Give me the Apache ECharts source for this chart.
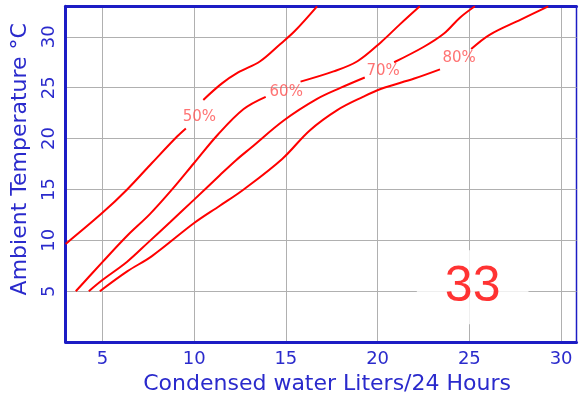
<!DOCTYPE html>
<html><head><meta charset="utf-8">
<script src="https://cdn.jsdelivr.net/npm/echarts@6/dist/echarts.min.js"></script>
<style>html,body{margin:0;padding:0;background:#fff}#c{width:579px;height:400px}</style>
</head><body><div id="c"></div>
<script>
// ---- data ----
const xTicks = [5, 10, 15, 20, 25, 30];
const yTicks = [5, 10, 15, 20, 25, 30];
// each curve: segments (gap where the contour label sits)
const rh50 = [
  [[3,9.65],[5,12.7],[6.35,15],[7.7,17.6],[9.07,20.2],[9.55,21.0]],
  [[10.5,23.8],[11.5,25.4],[12.4,26.5],[13.6,27.6],[14.7,29.3],[15.5,30.6],[16.7,33]]
];
const rh60 = [
  [[3.55,5],[5,7.86],[6.35,10.45],[7.6,12.6],[8.8,15],[10,17.6],[11.3,20.4],[12.7,22.9],[13.9,24.1]],
  [[15.8,25.6],[17.6,26.6],[18.9,27.6],[20.2,29.5],[21.2,31.2],[22.3,33]]
];
const rh70 = [
  [[4.26,5],[5,6.1],[6.35,7.9],[7.5,9.8],[8.7,11.8],[10,14],[11.4,16.4],[12.3,17.9],[13.1,19.1],[14.9,21.8],[16.7,23.9],[18,25],[19.3,26.0]],
  [[20.9,27.5],[22.5,29],[23.6,30.3],[24.5,31.9],[25.3,33]]
];
const rh80 = [
  [[4.86,5],[6.35,6.95],[7.7,8.45],[10,11.7],[11.4,13.4],[12.7,15],[14.8,18],[16.3,20.8],[17.8,22.8],[19.2,24.1],[20.2,24.9],[22,25.9],[23.4,26.8]],
  [[25.1,28.8],[26.1,30.2],[27.8,31.7],[29.3,33]]
];
const curveNames = ['50%', '60%', '70%', '80%'];
const labelPoints = [[10.29,22.1],[15.02,24.6],[20.3,26.6],[24.44,27.9]];
const badgeText = '33';
const badgePoint = [25.18, 5.4];
const xName = 'Condensed water Liters/24 Hours';
const yName = 'Ambient Temperature °C';

// ---- chart ----
const BLUE = '#1c1cc4';
const TXT = '#2a2acc';
const FONT = 'DejaVu Sans';
function join(segs){ const out=[]; segs.forEach((s,i)=>{ if(i) out.push(['-','-']); out.push(...s); }); return out; }
const curves = [rh50, rh60, rh70, rh80];

const chart = echarts.init(document.getElementById('c'), null, {renderer:'canvas'});
chart.setOption({
  animation: false,
  grid: {left: 65.7, right: 2.5, top: 6.3, bottom: 55.7, show: true, borderColor: BLUE, borderWidth: 1.5, backgroundColor: '#fff'},
  xAxis: [{
    type: 'value', min: 3, max: 30.84, position: 'bottom',
    axisLine: {show: true, onZero: false, lineStyle: {color: BLUE, width: 3}},
    axisTick: {show: false, customValues: xTicks},
    axisLabel: {customValues: xTicks, color: TXT, fontSize: 18, fontFamily: FONT, margin: 8},
    splitLine: {show: true, lineStyle: {color: '#b0b0b0', width: 1}},
    name: xName, nameLocation: 'middle', nameGap: 28,
    nameTextStyle: {color: TXT, fontSize: 22, fontFamily: FONT, padding: [0, 0, 0, 12]}
  }, {
    type: 'value', min: 3, max: 30.84, position: 'top',
    axisLine: {show: true, onZero: false, lineStyle: {color: BLUE, width: 3}},
    axisTick: {show: false}, axisLabel: {show: false}, splitLine: {show: false}
  }],
  yAxis: {
    type: 'value', min: 0, max: 33,
    axisLine: {show: true, onZero: false, lineStyle: {color: BLUE, width: 3}},
    axisTick: {show: false, customValues: yTicks},
    axisLabel: {customValues: yTicks, color: TXT, fontSize: 18, fontFamily: FONT, margin: 7, rotate: 90},
    splitLine: {show: true, lineStyle: {color: '#b0b0b0', width: 1}},
    name: yName, nameLocation: 'middle', nameGap: 34,
    nameTextStyle: {color: TXT, fontSize: 22, fontFamily: FONT, padding: [0, 0, 0, 30]}
  },
  series: [
    ...curves.map((c, i) => ({
      type: 'line', name: curveNames[i], data: join(c), smooth: 0.35, showSymbol: false, symbol: 'none',
      connectNulls: false, silent: true,
      lineStyle: {color: '#ff0000', width: 2}
    })),
    {
      type: 'scatter', data: labelPoints, symbolSize: 0, silent: true,
      label: {show: true, position: 'inside', formatter: p => curveNames[p.dataIndex],
        color: '#ff5050', fontSize: 15, fontFamily: FONT}
    },
    {
      type: 'scatter', data: [badgePoint], symbolSize: 0, silent: true, z: 5,
      label: {show: true, position: 'inside', formatter: () => badgeText,
        color: '#ff0000', fontSize: 50, fontFamily: 'Liberation Sans', lineHeight: 50,
        backgroundColor: '#ffffff', padding: [12, 28]}
    }
  ]
});
</script></body></html>
